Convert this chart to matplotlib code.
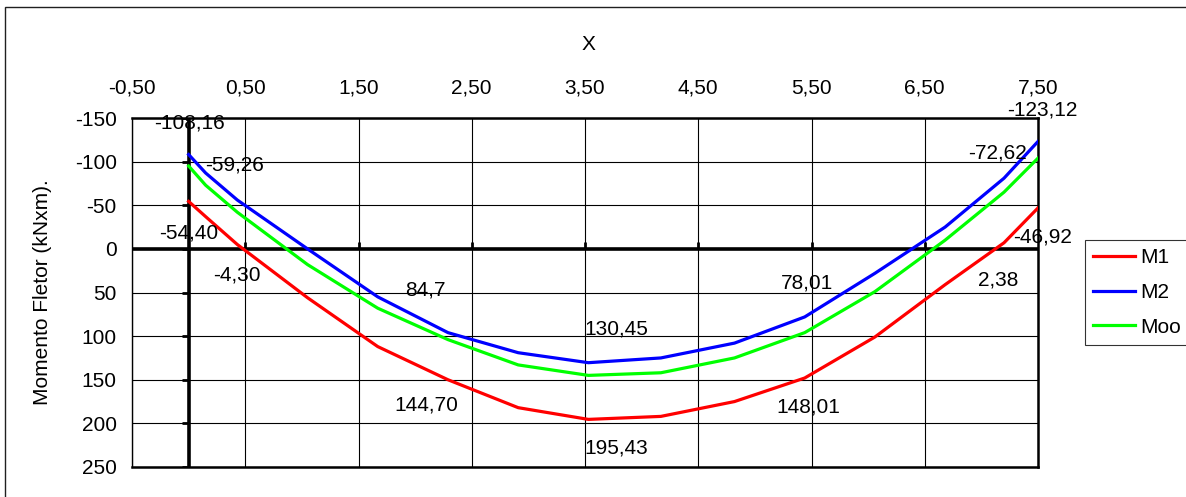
import matplotlib
matplotlib.use("Agg")
import matplotlib.pyplot as plt
import matplotlib.markers as mk
from matplotlib.patches import Rectangle
import numpy as np

plt.rcParams['font.family'] = ['Liberation Sans', 'DejaVu Sans']

# posicoes ao longo da viga (m)
x_pos = [0, 0.15, 0.43, 1.05, 1.67, 2.29, 2.91, 3.53, 4.17, 4.82, 5.44, 6.06, 6.68, 7.2, 7.5]
# momentos fletores (kNxm)
m1 = [-54.40, -37, -5, 56, 112, 150, 182, 195.43, 192, 175, 148.01, 101, 41, -7, -46.92]
m2 = [-108.16, -87, -56, 0, 55, 96, 119, 130.45, 125, 108, 78.01, 28, -25, -81, -123.12]
moo = [-95, -73, -42, 18, 68, 104, 133, 145, 142, 125, 96, 49, -10, -65, -104]

series_names = ['M1', 'M2', 'Moo']
series_colors = ['#ff0000', '#0000ff', '#00ff00']

x_ticks = [-0.5, 0.5, 1.5, 2.5, 3.5, 4.5, 5.5, 6.5, 7.5]
x_ticklabels = ['-0,50', '0,50', '1,50', '2,50', '3,50', '4,50', '5,50', '6,50', '7,50']
y_ticks = [-150, -100, -50, 0, 50, 100, 150, 200, 250]

# rotulos de dados (posicao em coords de dados)
lbl_text = ['-108,16', '-59,26', '-54,40', '-4,30', '84,7', '144,70', '130,45', '195,43',
            '78,01', '148,01', '2,38', '-46,92', '-123,12', '-72,62']
lbl_x = [0.01, 0.41, 0.0, 0.43, 2.09, 2.10, 3.78, 3.78, 5.46, 5.47, 7.15, 7.54, 7.54, 7.14]
lbl_y = [-144, -96, -18, 30, 47, 179, 92, 228, 39, 181, 36, -14, -159, -110]

W, H = 1186, 497
fig = plt.figure(figsize=(W / 100, H / 100), dpi=100)
ax = fig.add_axes([132 / W, 1 - 467 / H, (1038 - 132) / W, (467 - 118) / H])

ax.set_xlim(-0.5, 7.5)
ax.set_ylim(250, -150)

for vals, name, col in zip([m1, m2, moo], series_names, series_colors):
    ax.plot(x_pos, vals, color=col, lw=2.3, label=name, zorder=4)

# eixos cruzando em zero
ax.axhline(0, color='black', lw=2.6, zorder=3)
ax.axvline(0, color='black', lw=2.6, zorder=3)
ax.plot(x_ticks[1:-1], [0] * (len(x_ticks) - 2), ls='none', marker=mk.TICKUP,
        ms=5, mew=2, color='black', zorder=3)
ax.plot([0] * len(y_ticks), y_ticks, ls='none', marker=mk.TICKLEFT,
        ms=5, mew=2, color='black', zorder=3)

ax.set_xticks(x_ticks)
ax.set_xticklabels(x_ticklabels)
ax.set_yticks(y_ticks)
ax.set_yticklabels([str(v) for v in y_ticks])
ax.xaxis.tick_top()
ax.tick_params(axis='x', length=0, pad=15, labelsize=15)
ax.tick_params(axis='y', length=0, pad=11, labelsize=15)
ax.grid(True, color='black', lw=0.8)
ax.set_axisbelow(True)

for s in ['top', 'bottom', 'right']:
    ax.spines[s].set_linewidth(1.8)
ax.spines['left'].set_linewidth(1.0)

for t, xx, yy in zip(lbl_text, lbl_x, lbl_y):
    ax.text(xx, yy, t, ha='center', va='center', fontsize=15, zorder=5, clip_on=False)

fig.text(588 / W, 1 - 45 / H, 'X', ha='center', va='center', fontsize=15)
fig.text(42 / W, 1 - 292 / H, 'Momento Fletor (kNxm).', rotation=90,
         ha='center', va='center', fontsize=15)

leg = fig.legend(loc='upper left', bbox_to_anchor=(1085 / W, 1 - 240 / H),
                 bbox_transform=fig.transFigure, borderaxespad=0, fontsize=15,
                 fancybox=False, frameon=True, handlelength=2.0, handletextpad=0.25,
                 labelspacing=0.75, borderpad=0.4)
leg.get_frame().set_edgecolor('black')
leg.get_frame().set_linewidth(0.8)

fig.patches.append(Rectangle((5 / W, -0.01), 1.0, 1 - 7 / H + 0.01, transform=fig.transFigure,
                             fill=False, edgecolor='#202020', lw=1.0))

fig.savefig('out.png', dpi=100)
